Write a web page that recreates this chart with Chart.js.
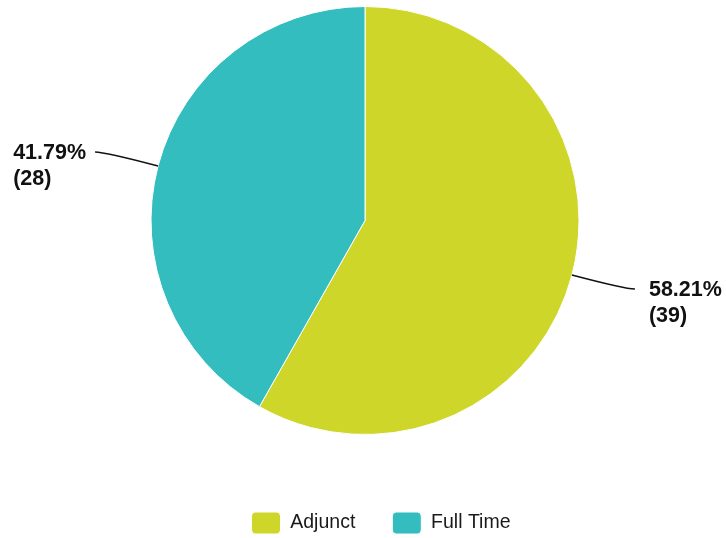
<!DOCTYPE html>
<html>
<head>
<meta charset="utf-8">
<script src="https://cdn.jsdelivr.net/npm/chart.js@4.4.1/dist/chart.umd.min.js"></script>
<style>
  html, body { margin: 0; padding: 0; background: #fff; }
  #wrap { width: 726px; height: 538px; }
</style>
</head>
<body>
<div id="wrap"><canvas id="pieChart"></canvas></div>
<script>
const categories = ["Adjunct", "Full Time"];
const counts = [39, 28];
const sliceColors = ["#cdd629", "#33bdbe"];

const total = counts.reduce((a, b) => a + b, 0);

// draws "xx.xx%\n(n)" beside each slice with a curved leader line
const outsideLabels = {
    id: "outsideLabels",
    afterDatasetsDraw(chart) {
        const ctx = chart.ctx;
        const meta = chart.getDatasetMeta(0);
        ctx.save();
        ctx.font = "bold 21.5px 'Liberation Sans', Arial, sans-serif";
        meta.data.forEach((arc, i) => {
            const mid = (arc.startAngle + arc.endAngle) / 2;
            const r = arc.outerRadius;
            const cos = Math.cos(mid), sin = Math.sin(mid);
            const side = cos >= 0 ? 1 : -1;
            const sx = arc.x + cos * r, sy = arc.y + sin * r;
            const cx = arc.x + cos * (r + 55), cy = arc.y + sin * (r + 55);
            const ex = sx + side * 63, ey = cy;

            ctx.strokeStyle = "#111";
            ctx.lineWidth = 1.5;
            ctx.beginPath();
            ctx.moveTo(sx, sy);
            ctx.quadraticCurveTo(cx, cy, ex, ey);
            ctx.stroke();

            const lines = [(counts[i] / total * 100).toFixed(2) + "%", "(" + counts[i] + ")"];
            const w = Math.max(...lines.map(t => ctx.measureText(t).width));
            const tx = side > 0 ? ex + 14 : ex - 9 - w;
            ctx.fillStyle = "#111";
            ctx.textBaseline = "middle";
            ctx.textAlign = "left";
            ctx.fillText(lines[0], tx, ey + 1);
            ctx.fillText(lines[1], tx, ey + 27);
        });
        ctx.restore();
    }
};

// push the legend down to the bottom edge and a little right, leaving the pie where it is
const legendDrop = {
    id: "legendDrop",
    afterLayout(chart) {
        chart.legend.top += 40;
        chart.legend.bottom += 40;
        chart.legend.left += 16;
        chart.legend.right += 16;
    }
};

new Chart(document.getElementById("pieChart"), {
    type: "pie",
    data: {
        labels: categories,
        datasets: [{
            data: counts,
            backgroundColor: sliceColors,
            borderColor: "#ffffff",
            borderWidth: 1
        }]
    },
    options: {
        responsive: true,
        maintainAspectRatio: false,
        animation: false,
        layout: { padding: { top: 6, left: 4, right: 0, bottom: 34 } },
        plugins: {
            tooltip: { enabled: false },
            legend: {
                position: "bottom",
                labels: {
                    boxWidth: 29,
                    boxHeight: 22,
                    useBorderRadius: true,
                    borderRadius: 4,
                    padding: 37,
                    color: "#1a1a1a",
                    font: { family: "'Liberation Sans', Arial, sans-serif", size: 19.5 }
                }
            }
        }
    },
    plugins: [outsideLabels, legendDrop]
});
</script>
</body>
</html>
